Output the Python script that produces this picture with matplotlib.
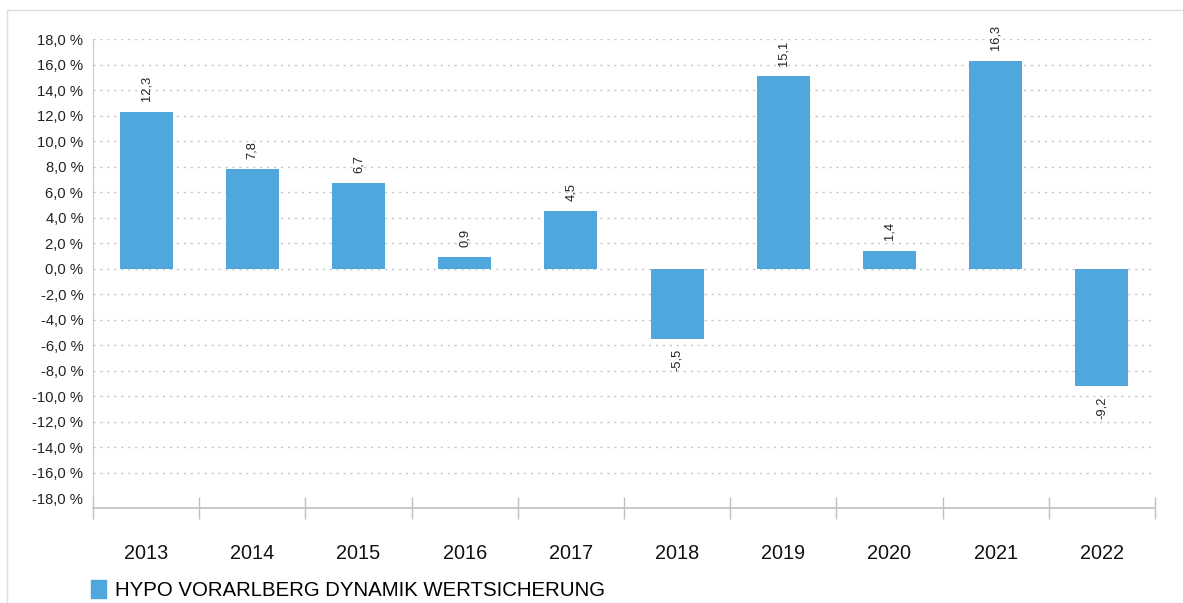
import matplotlib.pyplot as plt
import matplotlib.patches as mpatches
import numpy as np

plt.rcParams['font.family'] = ['Liberation Sans', 'DejaVu Sans']

years = ['2013', '2014', '2015', '2016', '2017', '2018', '2019', '2020', '2021', '2022']
werte = [12.3, 7.8, 6.7, 0.9, 4.5, -5.5, 15.1, 1.4, 16.3, -9.2]
yticks = np.arange(-18, 19, 2)
serie = 'HYPO VORARLBERG DYNAMIK WERTSICHERUNG'

blau = '#4fa7de'

fig = plt.figure(figsize=(11.83, 6.03), dpi=100)
ax = fig.add_axes([0.0786, 0.1575, 0.8977, 0.7778])

x = np.arange(len(years))
ax.bar(x, werte, width=0.5, color=blau, zorder=3)

for xi, v in zip(x, werte):
    if v >= 0:
        ax.text(xi, v + 0.8, f'{v:.1f}'.replace('.', ','), rotation=90,
                ha='center', va='bottom', fontsize=9.3, color='#222222')
    else:
        ax.text(xi, v - 0.8, f'{v:.1f}'.replace('.', ','), rotation=90,
                ha='center', va='top', fontsize=9.3, color='#222222')

for t in yticks[1:]:
    ax.axhline(t, color='#c4c4c4', lw=1, ls=(0, (1.5, 3.5)), zorder=1)

ax.set_xlim(-0.5, len(years) - 0.5)
ax.set_ylim(-18.78, 18.0)
ax.set_yticks(yticks)
ax.set_yticklabels([f'{t:.1f} %'.replace('.', ',') for t in yticks], fontsize=10.6, color='#222222')
ax.tick_params(axis='y', length=0, pad=7)

ax.set_xticks(np.arange(-0.5, len(years), 1))
ax.set_xticklabels([])
ax.set_xticks(x, minor=True)
ax.set_xticklabels(years, minor=True, fontsize=14.3, color='#111111')
ax.tick_params(axis='x', which='major', direction='inout', length=16, color='#c0c0c0', width=1)
ax.tick_params(axis='x', which='minor', length=0, pad=26)

for s in ['top', 'right']:
    ax.spines[s].set_visible(False)
ax.spines['left'].set_color('#c8c8c8')
ax.spines['bottom'].set_color('#c0c0c0')
ax.spines['bottom'].set_linewidth(1.2)

handle = mpatches.Patch(color=blau, label=serie)
fig.legend(handles=[handle], loc='lower left', bbox_to_anchor=(0.061, -0.026),
           frameon=False, fontsize=14.7, handlelength=0.75, handleheight=0.95, handletextpad=0.45)

fig.patches.append(mpatches.Rectangle((0.006, -0.01), 1.2, 1.0017 - 0.0083, transform=fig.transFigure,
                                      fill=False, edgecolor='#dddddd', lw=1))

fig.savefig('out.png', dpi=100)
